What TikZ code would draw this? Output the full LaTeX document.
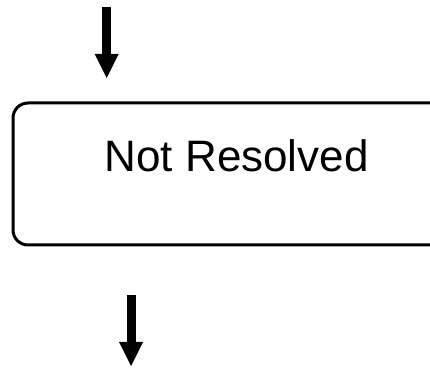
\documentclass[tikz,border=0pt]{standalone}
\usepackage{fontspec}
\setmainfont{Liberation Sans}
\usetikzlibrary{arrows.meta}
\tikzset{
  flowarrow/.style={line width=9pt,-{Triangle[width=24pt,length=24pt,line width=0pt]}},
  statebox/.style={draw,line width=3pt,rounded corners=15pt,minimum width=447pt,minimum height=142pt,inner sep=0pt},
  statetext/.style={inner sep=0pt,anchor=base,font=\fontsize{44}{52}\selectfont}
}
\begin{document}
\begin{tikzpicture}[x=1pt,y=1pt]
\useasboundingbox (0,0) rectangle (430,374);
\node[statebox] (box) at (236.5,200) {};
\node[statetext] (label) at (236.7,202) {Not Resolved};
\coordinate (a1) at (106.7,367);
\coordinate (a2) at (106.7,296);
\coordinate (b1) at (131,79);
\coordinate (b2) at (131,8);
\draw[flowarrow] (a1) -- (a2);
\draw[flowarrow] (b1) -- (b2);
\end{tikzpicture}
\end{document}
